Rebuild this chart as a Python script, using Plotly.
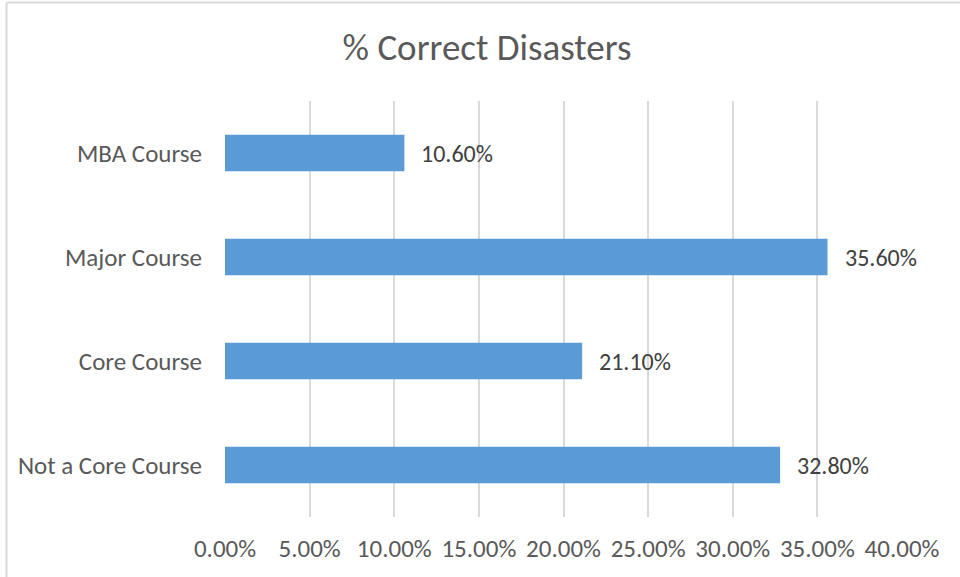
import plotly.graph_objects as go

categories = ["Not a Core Course", "Core Course", "Major Course", "MBA Course"]
values = [0.328, 0.211, 0.356, 0.106]
tick_vals = [0, 0.05, 0.10, 0.15, 0.20, 0.25, 0.30, 0.35, 0.40]
tick_text = ["0.00%", "5.00%", "10.00%", "15.00%", "20.00%", "25.00%", "30.00%", "35.00%", "40.00%"]
title = "% Correct Disasters"

FONT = "Calibri, Carlito, 'Liberation Sans', Arial, sans-serif"
TXT = "#595959"

fig = go.Figure(go.Bar(
    x=values, y=categories, orientation="h",
    marker=dict(color="#5b9bd5", line=dict(width=0)),
    width=0.35, hoverinfo="skip",
))

for c, v in zip(categories, values):
    fig.add_annotation(x=v, y=c, text=f"{v*100:.2f}%", showarrow=False,
                       xanchor="left", xshift=15,
                       font=dict(family=FONT, size=24, color="#404040"))

L, R, T, B = 225, 58, 101, 60
W, H = 960, 577
pw, ph = W - L - R, H - T - B
def px_x(p):
    return (p - L) / pw
def px_y(p):
    return (H - B - p) / ph

fig.add_shape(type="line", xref="paper", yref="paper",
              x0=px_x(6.5), x1=px_x(960), y0=px_y(2.5), y1=px_y(2.5),
              line=dict(color="#d9d9d9", width=2))
fig.add_shape(type="line", xref="paper", yref="paper",
              x0=px_x(6.5), x1=px_x(6.5), y0=px_y(2.5), y1=px_y(577),
              line=dict(color="#d9d9d9", width=2))

fig.update_layout(
    width=W, height=H,
    margin=dict(l=L, r=R, t=T, b=B),
    paper_bgcolor="white", plot_bgcolor="white",
    showlegend=False,
    title=dict(text=title, x=487 / W, xref="container", xanchor="center",
               y=1 - 47 / H, yanchor="middle", yref="container",
               font=dict(family=FONT, size=37, color=TXT)),
    font=dict(family=FONT, color=TXT),
    xaxis=dict(range=[0, 0.40], tickvals=tick_vals, ticktext=tick_text,
               showgrid=True, gridcolor="#d9d9d9", gridwidth=1.5,
               zeroline=False, showline=False, ticks="",
               ticklabelstandoff=14,
               tickfont=dict(family=FONT, size=25, color=TXT), fixedrange=True),
    yaxis=dict(categoryorder="array", categoryarray=categories,
               range=[-0.5, 3.5], showgrid=False, zeroline=False,
               showline=False, ticks="", ticklabelstandoff=22,
               tickfont=dict(family=FONT, size=25, color=TXT), fixedrange=True),
)

fig.write_html("out.html")
